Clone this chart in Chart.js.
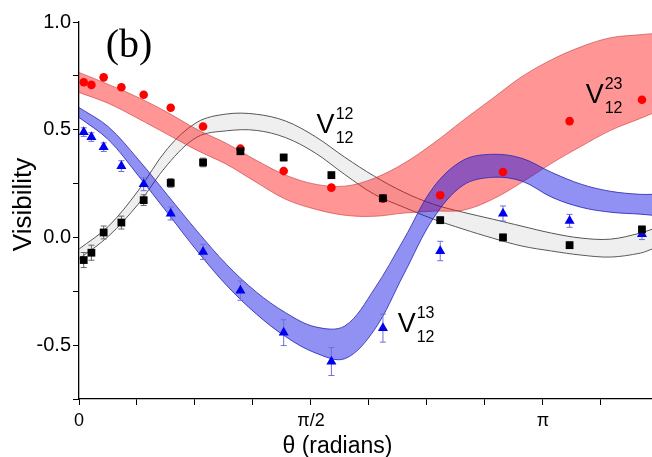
<!DOCTYPE html>
<html>
<head>
<meta charset="utf-8">
<script src="https://cdn.jsdelivr.net/npm/chart.js@4.4.0/dist/chart.umd.min.js"></script>
<style>
  html, body { margin: 0; padding: 0; background: #fff; overflow: hidden; }
  canvas { display: block; }
</style>
</head>
<body>
<canvas id="visChart" width="652" height="457"></canvas>
<script>
// Measured points (theta in radians)
const dataTheta = [0.032, 0.084, 0.167, 0.287, 0.438, 0.621, 0.840, 1.093, 1.386, 1.709, 2.058, 2.446, 2.871, 3.322, 3.812];
const v12 = [-0.105, -0.071, 0.023, 0.069, 0.173, 0.253, 0.348, 0.400, 0.371, 0.289, 0.182, 0.080, 0.000, -0.036, 0.037];
const v12Err = [0.035, 0.035, 0.03, 0.03, 0.025, 0.02, 0.02, 0.015, 0.015, 0.015, 0.015, 0.015, 0.015, 0.015, 0.015];
const v23 = [0.720, 0.708, 0.743, 0.697, 0.662, 0.602, 0.515, 0.412, 0.308, 0.231, 0.180, 0.196, 0.304, 0.540, 0.639];
const v13 = [0.489, 0.466, 0.419, 0.331, 0.247, 0.111, -0.067, -0.247, -0.442, -0.576, -0.421, -0.063, 0.111, 0.077, 0.015];
const v13Err = [0.02, 0.02, 0.02, 0.025, 0.03, 0.03, 0.035, 0.045, 0.06, 0.065, 0.065, 0.045, 0.035, 0.03, 0.025];

// Theory bands (upper / lower edge)
const bandTheta = [0, 0.2, 0.4, 0.6, 0.8, 1.0, 1.2, 1.4, 1.6, 1.8, 2.0, 2.2, 2.4, 2.6, 2.8, 3.0, 3.2, 3.4, 3.6, 3.8, 3.88];
const band12Hi = [-0.054, 0.052, 0.216, 0.413, 0.535, 0.573, 0.572, 0.540, 0.468, 0.372, 0.284, 0.210, 0.154, 0.117, 0.085, 0.052, 0.020, -0.003, -0.008, 0.020, 0.038];
const band12Lo = [-0.100, 0.006, 0.154, 0.339, 0.466, 0.495, 0.497, 0.463, 0.392, 0.292, 0.200, 0.140, 0.085, 0.039, -0.003, -0.040, -0.063, -0.082, -0.091, -0.073, -0.054];
const band23Hi = [0.766, 0.710, 0.650, 0.580, 0.501, 0.436, 0.358, 0.289, 0.247, 0.238, 0.275, 0.344, 0.437, 0.543, 0.645, 0.747, 0.825, 0.885, 0.927, 0.941, 0.946];
const band23Lo = [0.673, 0.622, 0.552, 0.478, 0.404, 0.339, 0.256, 0.177, 0.131, 0.103, 0.098, 0.113, 0.122, 0.126, 0.177, 0.256, 0.344, 0.423, 0.497, 0.552, 0.575];
const band13Hi = [0.603, 0.513, 0.363, 0.196, 0.029, -0.126, -0.253, -0.350, -0.415, -0.411, -0.239, -0.008, 0.233, 0.358, 0.386, 0.367, 0.302, 0.247, 0.214, 0.200, 0.200];
const band13Lo = [0.557, 0.453, 0.288, 0.113, -0.063, -0.223, -0.355, -0.461, -0.536, -0.563, -0.429, -0.170, 0.089, 0.242, 0.279, 0.261, 0.187, 0.140, 0.117, 0.108, 0.103];

// Axis ticks
const xTickValues = [0, Math.PI / 2, Math.PI];
const xTickLabels = ['0', 'π/2', 'π'];
const yTickValues = [-0.5, 0, 0.5, 1.0];
const yTickLabels = ['-0.5', '0.0', '0.5', '1.0'];

function pts(xs, ys) {
    return xs.map((x, i) => ({ x: x, y: ys[i] }));
}

function bandPair(hi, lo, fill, line, order) {
    return [{
        data: pts(bandTheta, hi),
        showLine: true,
        pointRadius: 0,
        borderColor: line,
        borderWidth: 1,
        backgroundColor: fill,
        fill: '+1',
        tension: 0.35,
        order: order
    }, {
        data: pts(bandTheta, lo),
        showLine: true,
        pointRadius: 0,
        borderColor: line,
        borderWidth: 1,
        fill: false,
        tension: 0.35,
        order: order
    }];
}

// Vertical error bars, drawn right before the owning marker dataset
const errorBars = {
    id: 'errorBars',
    beforeDatasetDraw(chart, args) {
        const ds = chart.data.datasets[args.index];
        if (!ds.errors) return;
        const xs = chart.scales.x, ys = chart.scales.y;
        const ctx = chart.ctx;
        ctx.save();
        ctx.strokeStyle = ds.errorColor;
        ctx.lineWidth = 1;
        ds.data.forEach((p, i) => {
            const px = xs.getPixelForValue(p.x);
            const top = ys.getPixelForValue(p.y + ds.errors[i]);
            const bot = ys.getPixelForValue(p.y - ds.errors[i]);
            ctx.beginPath();
            ctx.moveTo(px, top); ctx.lineTo(px, bot);
            ctx.moveTo(px - 3, top); ctx.lineTo(px + 3, top);
            ctx.moveTo(px - 3, bot); ctx.lineTo(px + 3, bot);
            ctx.stroke();
        });
        ctx.restore();
    }
};

// Axis titles, panel letter and curve labels
const labels = {
    id: 'labels',
    afterDraw(chart) {
        const ctx = chart.ctx;
        const xs = chart.scales.x, ys = chart.scales.y;
        const area = chart.chartArea;
        ctx.save();
        ctx.fillStyle = '#000';

        ctx.font = '40px "Liberation Serif"';
        ctx.textAlign = 'left';
        ctx.textBaseline = 'alphabetic';
        ctx.fillText('(b)', xs.getPixelForValue(0.181), ys.getPixelForValue(0.839));

        const curveLabels = [
            { x: 1.609, y: 0.483, sup: '12', sub: '12' },
            { x: 3.431, y: 0.626, sup: '23', sub: '12' },
            { x: 2.158, y: -0.438, sup: '13', sub: '12' }
        ];
        curveLabels.forEach(l => {
            const px = xs.getPixelForValue(l.x);
            const py = ys.getPixelForValue(l.y);
            ctx.font = '27px "Liberation Sans"';
            ctx.fillText('V', px, py);
            const w = ctx.measureText('V').width + 1;
            ctx.font = '16px "Liberation Sans"';
            ctx.fillText(l.sup, px + w, py - 14);
            ctx.fillText(l.sub, px + w, py + 10);
        });

        ctx.font = '23px "Liberation Sans"';
        ctx.textAlign = 'center';
        ctx.fillText('θ (radians)', xs.getPixelForValue(1.75), area.bottom + 54);

        ctx.font = '26px "Liberation Sans"';
        ctx.translate(31, (area.top + area.bottom) / 2 - 6);
        ctx.rotate(-Math.PI / 2);
        ctx.fillText('Visibility', 0, 0);
        ctx.restore();
    }
};

function initChart() {
    const ctx = document.getElementById('visChart').getContext('2d');
    new Chart(ctx, {
        type: 'scatter',
        data: {
            datasets: [{
                data: pts(dataTheta, v12),
                pointStyle: 'rect',
                pointRadius: 5.5,
                pointBackgroundColor: '#000',
                pointBorderWidth: 0,
                errors: v12Err,
                errorColor: '#666',
                order: 0
            }, {
                data: pts(dataTheta, v23),
                pointStyle: 'circle',
                pointRadius: 4.3,
                pointBackgroundColor: '#ff0000',
                pointBorderWidth: 0,
                order: 0
            }, {
                data: pts(dataTheta, v13),
                pointStyle: 'triangle',
                pointRadius: 5.8,
                pointBackgroundColor: '#0000ee',
                pointBorderWidth: 0,
                errors: v13Err,
                errorColor: '#6f6fd8',
                order: 0
            },
            ...bandPair(band13Hi, band13Lo, 'rgba(10,10,230,0.45)', 'rgba(40,40,170,0.8)', 1),
            ...bandPair(band23Hi, band23Lo, 'rgba(255,20,20,0.45)', 'rgba(190,60,60,0.6)', 2),
            ...bandPair(band12Hi, band12Lo, 'rgba(150,150,150,0.15)', '#555', 3)
            ]
        },
        options: {
            responsive: false,
            animation: false,
            layout: { autoPadding: false, padding: { top: 22, right: 0, bottom: 0, left: 0 } },
            plugins: {
                legend: { display: false },
                tooltip: { enabled: false }
            },
            scales: {
                x: {
                    type: 'linear',
                    min: 0,
                    max: 3.88,
                    afterFit: s => { s.height = 58; },
                    border: { display: true, color: '#000', width: 1.3 },
                    grid: { drawOnChartArea: false, drawTicks: true, tickLength: 6, tickColor: '#000' },
                    ticks: {
                        stepSize: Math.PI / 8,
                        includeBounds: false,
                        autoSkip: false,
                        maxRotation: 0,
                        padding: 5,
                        color: '#000',
                        font: { family: 'Liberation Sans', size: 18 },
                        callback: v => {
                            const i = xTickValues.findIndex(t => Math.abs(t - v) < 1e-3);
                            return i >= 0 ? xTickLabels[i] : '';
                        }
                    }
                },
                y: {
                    min: -0.75,
                    max: 1.0,
                    afterFit: s => { s.width = 79; },
                    border: { display: true, color: '#000', width: 1.3 },
                    grid: { drawOnChartArea: false, drawTicks: true, tickLength: 6, tickColor: '#000' },
                    ticks: {
                        stepSize: 0.25,
                        autoSkip: false,
                        padding: 2,
                        color: '#000',
                        font: { family: 'Liberation Sans', size: 20 },
                        callback: v => {
                            const i = yTickValues.findIndex(t => Math.abs(t - v) < 1e-6);
                            return i >= 0 ? yTickLabels[i] : '';
                        }
                    }
                }
            }
        },
        plugins: [errorBars, labels]
    });
}

initChart();
</script>
</body>
</html>
